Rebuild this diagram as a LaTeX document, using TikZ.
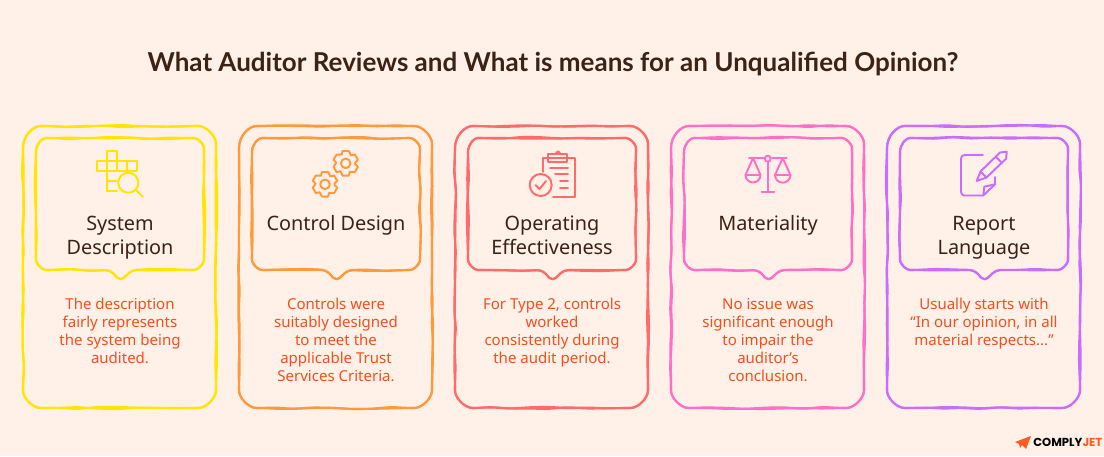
\documentclass[tikz,border=0pt]{standalone}
\usepackage{fontspec}
\usepackage{xcolor}
\usetikzlibrary{decorations.pathmorphing,calc}
\setmainfont{Noto Sans}
\newfontfamily\titlefont{Lato}
\newfontfamily\logofont{Poppins}
\definecolor{paper}{HTML}{FFF0E8}
\definecolor{ink}{HTML}{3D2216}
\definecolor{note}{HTML}{F0501E}
\definecolor{flame}{HTML}{FF5A1F}
\definecolor{cardyellow}{HTML}{FFE500}
\definecolor{cardorange}{HTML}{FF9A3C}
\definecolor{cardred}{HTML}{FF6B6B}
\definecolor{cardpink}{HTML}{FF6EC7}
\definecolor{cardpurple}{HTML}{C86DFF}
\tikzset{
  framed/.style={line width=1.2pt,line join=round,rounded corners=2.5pt},
  rough/.style={decoration={random steps,segment length=11pt,amplitude=0.65pt}},
  icon/.style={line width=1.1pt,line join=round,line cap=round},
  titletext/.style={text=ink,font=\fontsize{14.8}{17}\selectfont\titlefont\bfseries},
  headtext/.style={text=ink,align=center,font=\fontsize{11.3}{13.6}\selectfont},
  notetext/.style={text=note,align=center,font=\fontsize{8.55}{10.25}\selectfont},
}
% outer card and callout, drawn twice for the pen look
\newcommand{\cardframe}[1]{%
  \foreach \pass in {1,2}{%
    \draw[framed,draw=#1] (23,-148) arc[start angle=180,end angle=90,radius=22] decorate[rough]{-- (194,-126)} arc[start angle=90,end angle=0,radius=22] decorate[rough]{-- (216,-386)} arc[start angle=0,end angle=-90,radius=22] decorate[rough]{-- (45,-408)} arc[start angle=-90,end angle=-180,radius=22] decorate[rough]{-- (23,-148)};
    \draw[framed,draw=#1] (36,-152) arc[start angle=180,end angle=90,radius=14] decorate[rough]{-- (190,-138)} arc[start angle=90,end angle=0,radius=14] decorate[rough]{-- (204,-256)} arc[start angle=0,end angle=-90,radius=14] decorate[rough]{-- (132,-270)} -- (120.5,-281) -- (110,-270) decorate[rough]{-- (50,-270)} arc[start angle=-90,end angle=-180,radius=14] decorate[rough]{-- (36,-152)};
  }%
}
\newcommand{\gearicon}[2]{%
  \draw[icon] ($(#1,#2)+(4:9.5)$)
    \foreach \a in {30,90,...,330}{ -- ($(#1,#2)+(\a-14:12.7)$) -- ($(#1,#2)+(\a+14:12.7)$) -- ($(#1,#2)+(\a+26:9.5)$)} -- cycle;
  \draw[icon] (#1,#2) circle[radius=4.8];
}
\begin{document}
\begin{tikzpicture}[x=0.02cm,y=0.02cm]
\useasboundingbox (0,-456) rectangle (1104,0);
\fill[paper] (0,-456) rectangle (1104,0);

\node[titletext] (title) at (553,-63.5) {What Auditor Reviews and What is means for an Unqualified Opinion?};

\begin{scope}
\cardframe{cardyellow}
\draw[icon,cardyellow] (107,-161) -- (107,-151) -- (117,-151) -- (117,-171) -- (107,-171) -- cycle;
\draw[icon,cardyellow] (97,-161) rectangle (137,-171);
\draw[icon,cardyellow] (107,-171) -- (107,-191) -- (117,-191);
\draw[icon,cardyellow] (107,-181) -- (117,-181);
\draw[icon,cardyellow] (127,-161) -- (127,-171);
\draw[icon,cardyellow,fill=paper] (128.3,-182.7) circle[radius=10];
\draw[icon,cardyellow] (135.5,-189.5) -- (143,-197);
\node[headtext] (sysHead) at (120,-238) {System\\Description};
\node[notetext] (sysNote) at (120,-331) {The description\\fairly represents\\the system being\\audited.};
\end{scope}

\begin{scope}[shift={(216,0)}]
\cardframe{cardorange}
\begin{scope}[cardorange]
\gearicon{129.7}{-163.3}
\gearicon{109}{-184.3}
\end{scope}
\node[headtext] (ctlHead) at (120,-225) {Control Design};
\node[notetext] (ctlNote) at (120,-340) {Controls were\\suitably designed\\to meet the\\applicable Trust\\Services Criteria.};
\end{scope}

\begin{scope}[shift={(432,0)}]
\cardframe{cardred}
\begin{scope}[cardred]
\draw[icon] (111.3,-172) -- (111.3,-157.7) -- (143,-157.7) -- (143,-196.7) -- (121,-196.7);
\draw[icon] (116,-154) rectangle (135,-161.7);
\draw[icon] (124,-153) -- (126,-151.5) -- (128,-153);
\draw[icon] (118,-168.3) -- (136,-168.3);
\draw[icon] (123,-174.3) -- (136,-174.3);
\draw[icon] (128,-181) -- (136,-181);
\draw[icon] (128,-188) -- (136,-188);
\draw[icon] (108.7,-185) circle[radius=11];
\draw[icon] (103.5,-185) -- (107.5,-189) -- (114,-181);
\end{scope}
\node[headtext] (opHead) at (120,-235) {Operating\\Effectiveness};
\node[notetext] (opNote) at (120,-333) {For Type 2, controls\\worked\\consistently during\\the audit period.};
\end{scope}

\begin{scope}[shift={(648,0)}]
\cardframe{cardpink}
\begin{scope}[cardpink]
\draw[icon] (101,-157.7) -- (116,-157.7);
\draw[icon] (124,-157.7) -- (138.7,-157.7);
\draw[icon] (119.7,-162) -- (119.7,-191.7);
\draw[icon] (113.7,-191.7) -- (126.3,-191.7);
\draw[icon] (119.7,-158.7) circle[radius=3];
\draw[icon] (105,-158) -- (97.5,-175) arc[start angle=180,end angle=360,radius=7.5] -- cycle;
\draw[icon] (97.5,-175) -- (112.5,-175);
\draw[icon] (134.7,-158) -- (127,-175) arc[start angle=180,end angle=360,radius=7.7] -- cycle;
\draw[icon] (127,-175) -- (142.4,-175);
\end{scope}
\node[headtext] (matHead) at (120,-225) {Materiality};
\node[notetext] (matNote) at (120,-340) {No issue was\\significant enough\\to impair the\\auditor's\\conclusion.};
\end{scope}

\begin{scope}[shift={(864,0)}]
\cardframe{cardpurple}
\begin{scope}[cardpurple]
\draw[icon,rounded corners=2pt] (119,-155) -- (97,-155) -- (97,-195.5) -- (119.3,-195.5);
\draw[icon] (131,-177) -- (131,-184.3) -- (119.3,-195.5) -- (120.3,-186.7) -- (131,-184.3);
\draw[icon] (112.7,-181) -- (116.5,-171.5) -- (136,-152.5) -- (142.7,-151.7) -- (142.2,-158.5) -- (122.5,-177.5) -- cycle;
\draw[icon] (116.5,-171.5) -- (122.5,-177.5);
\draw[icon] (131.5,-156.5) -- (138,-163);
\end{scope}
\node[headtext] (repHead) at (120,-238) {Report\\Language};
\node[notetext] (repNote) at (120,-324) {Usually starts with\\“In our opinion, in all\\material respects...”};
\end{scope}

\fill[flame] (1015,-442) -- (1031,-436) -- (1026,-449) -- (1022,-445) -- (1020,-448) -- (1019,-444) -- cycle;
\node[anchor=west,inner sep=0pt,font=\fontsize{6.6}{7}\selectfont\logofont\bfseries] (logo) at (1033,-442) {COMPLY\textcolor{flame}{JET}};
\end{tikzpicture}
\end{document}
